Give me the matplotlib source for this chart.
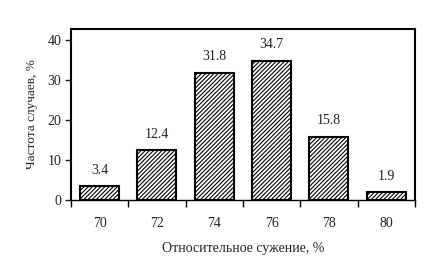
import matplotlib
matplotlib.use("Agg")
import matplotlib.pyplot as plt
from matplotlib.ticker import FixedLocator, NullFormatter

# data
categories = ["70", "72", "74", "76", "78", "80"]
values = [3.4, 12.4, 31.8, 34.7, 15.8, 1.9]
y_ticks = [0, 10, 20, 30, 40]

plt.rcParams['font.family'] = ['Liberation Serif', 'DejaVu Serif']
plt.rcParams['font.size'] = 10
plt.rcParams['hatch.linewidth'] = 0.8

fig = plt.figure(figsize=(4.30, 2.78), dpi=100)
ax = fig.add_axes([0.165, 0.2806, 0.8, 0.615])

x = list(range(len(categories)))
bars = ax.bar(x, values, width=0.68, color='white', edgecolor='black',
              linewidth=1.5, hatch='////////')

for bar, v in zip(bars, values):
    ax.annotate(f"{v}", (bar.get_x() + bar.get_width() / 2, v),
                xytext=(0, 7), textcoords='offset points',
                ha='center', va='bottom', color='#222222')

ax.set_xlim(-0.5, len(categories) - 0.5)
ax.set_ylim(0, 42.75)

# category boundary ticks, labels in between
ax.xaxis.set_major_locator(FixedLocator([i - 0.5 for i in range(len(categories) + 1)]))
ax.xaxis.set_major_formatter(NullFormatter())
ax.set_xticks(x, minor=True)
ax.set_xticklabels(categories, minor=True)
ax.tick_params(axis='x', which='major', direction='out', length=5, width=1)
ax.tick_params(axis='x', which='minor', length=0, pad=12, colors='#222222')

ax.set_yticks(y_ticks)
ax.tick_params(axis='y', direction='out', length=4, width=1, pad=3, colors='#222222')

for s in ax.spines.values():
    s.set_linewidth(1.5)
ax.spines['bottom'].set_linewidth(1.0)

ax.set_ylabel("Частота случаев, %", color='#222222', labelpad=7, fontsize=9.5)
ax.set_xlabel("Относительное сужение, %", color='#222222', labelpad=9)

fig.savefig("out.png", dpi=100)
